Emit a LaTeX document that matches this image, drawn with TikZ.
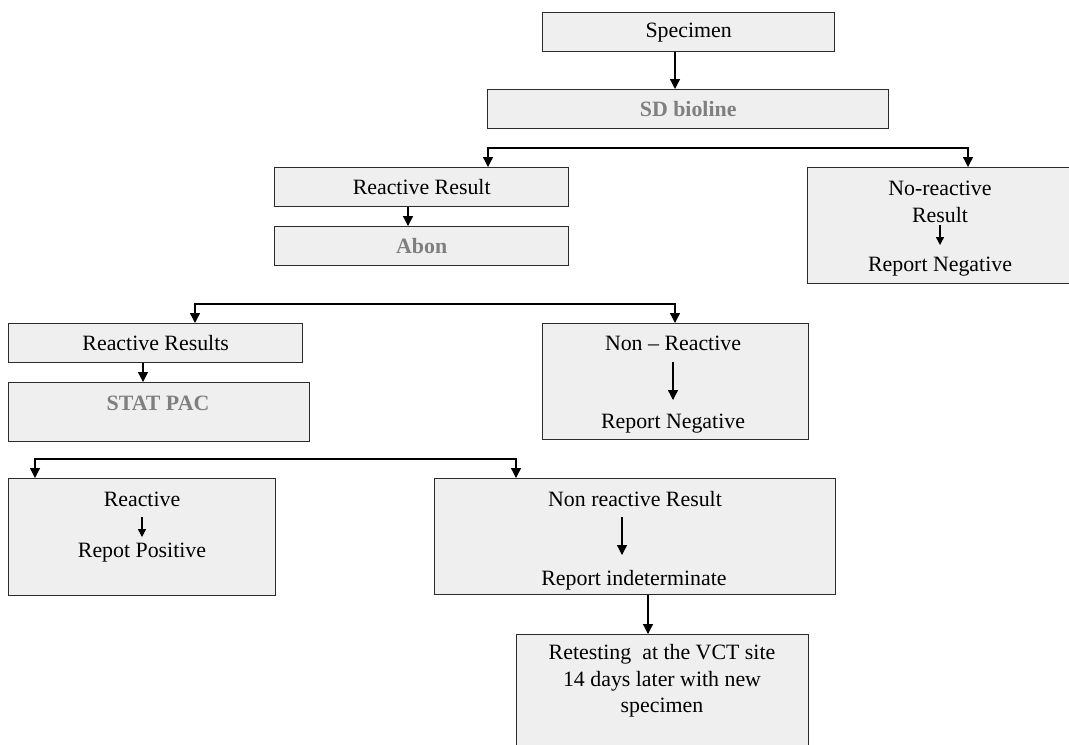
\documentclass[tikz,border=0pt]{standalone}
\usepackage{fontspec}
\setmainfont{Liberation Serif}
\usetikzlibrary{arrows.meta}
\definecolor{boxfill}{HTML}{EFEFEF}
\definecolor{boxline}{HTML}{2B2B2B}
\definecolor{greytxt}{HTML}{7F7F7F}
\tikzset{
  box/.style 2 args={draw=boxline, line width=1pt, fill=boxfill, rectangle, anchor=north west,
     inner sep=0pt, minimum width=#1*0.75pt, minimum height=#2*0.75pt},
  txt/.style={inner sep=0pt, font=\fontsize{16.4}{19.8}\selectfont, align=center},
  gtxt/.style={inner sep=0pt, font=\fontsize{16.4}{19.8}\selectfont\bfseries, text=greytxt},
  arr/.style={line width=1pt, -{Triangle[length=7.5pt,width=7.5pt]}},
  sarr/.style={line width=1pt, -{Triangle[length=6pt,width=6pt]}},
  darr/.style={line width=1pt, {Triangle[length=7.5pt,width=7.5pt]}-{Triangle[length=7.5pt,width=7.5pt]}},
}
\begin{document}
\begin{tikzpicture}[x=0.75pt, y=-0.75pt]
\useasboundingbox (0,0) rectangle (1069,744);
\clip (0,0) rectangle (1069,744);

% boxes
\node[box={292}{39}] (spec) at (542,12) {};
\node[txt] at (spec.center) {Specimen};
\node[box={401}{39}] (sd) at (487,89) {};
\node[gtxt] at (sd.center) {SD bioline};
\node[box={294}{39}] (rr) at (274,167) {};
\node[txt] at (rr.center) {Reactive Result};
\node[box={294}{39}] (abon) at (274,226) {};
\node[gtxt] at (abon.center) {Abon};
\node[box={270}{116}] (nrr) at (807,167) {};
\node[box={294}{39}] (rrs) at (8,323) {};
\node[txt] at (rrs.center) {Reactive Results};
\node[box={301}{59}] (stat) at (8,382) {};
\node[gtxt] (stattxt) at (158,403) {STAT PAC};
\node[box={266}{116}] (nonr) at (542,323) {};
\node[box={267}{117}] (reac) at (8,478) {};
\node[box={401}{116}] (nonres) at (434,478) {};
\node[box={292}{130}] (retest) at (516,634) {};

% texts inside the compound boxes
\node[txt] (nrr1) at (940,188) {No-reactive};
\node[txt] (nrr2) at (940,215) {Result};
\node[txt] (nrr3) at (940,267) {Report Negative};
\draw[sarr] (nrr2.south |- 0,225) -- (nrr3.north |- 0,245);

\node[txt] (nonr1) at (673,343) {Non -- Reactive};
\node[txt] (nonr2) at (673,424) {Report Negative};
\draw[arr] (nonr1.south |- 0,362) -- (nonr2.north |- 0,400);

\node[txt] (reac1) at (142,499) {Reactive};
\node[txt] (reac2) at (142,553) {Repot Positive};
\draw[sarr] (reac1.south |- 0,517) -- (reac2.north |- 0,537);

\node[txt] (nonres1) at (635,499) {Non reactive Result};
\node[txt] (nonres2) at (634,580) {Report indeterminate};
\coordinate (x622) at (622,0);
\draw[arr] (x622 |- 0,517) -- (x622 |- 0,555);

\node[txt] (ret) at (662,681) {Retesting\ \ at the VCT site\\14 days later with new\\specimen};

% connectors
\coordinate (x675) at (675,0);
\coordinate (x488) at (488,0);
\coordinate (x968) at (968,0);
\coordinate (x408) at (408,0);
\coordinate (x195) at (195,0);
\coordinate (x143) at (143,0);
\coordinate (x35) at (35,0);
\coordinate (x516) at (516,0);
\coordinate (x648) at (648,0);
\coordinate (b1) at (700,148);
\coordinate (b2) at (400,304);
\coordinate (b3) at (300,459);

\draw[arr] (spec.south -| x675) -- (sd.north -| x675);
\draw[darr] (rr.north -| x488) |- (b1) -| (nrr.north -| x968);
\draw[arr] (rr.south -| x408) -- (abon.north -| x408);
\draw[darr] (rrs.north -| x195) |- (b2) -| (nonr.north -| x675);
\draw[arr] (rrs.south -| x143) -- (stat.north -| x143);
\draw[darr] (reac.north -| x35) |- (b3) -| (nonres.north -| x516);
\draw[arr] (nonres.south -| x648) -- (retest.north -| x648);
\end{tikzpicture}
\end{document}
